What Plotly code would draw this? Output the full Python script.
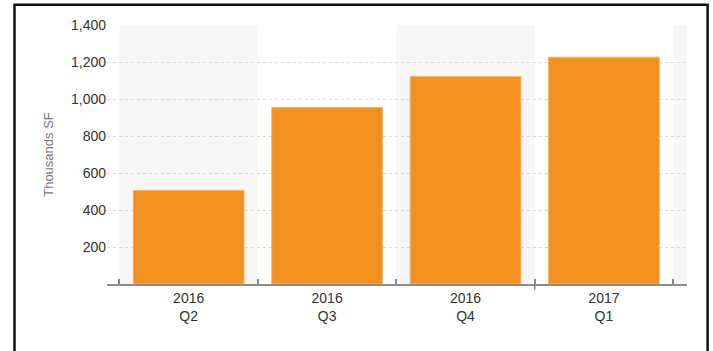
import plotly.graph_objects as go

years = ["2016", "2016", "2016", "2017"]
quarters = ["Q2", "Q3", "Q4", "Q1"]
values = [505, 954, 1121, 1226]
y_ticks = [200, 400, 600, 800, 1000, 1200, 1400]

categories = [f"{y}<br>{q}" for y, q in zip(years, quarters)]

fig = go.Figure()
fig.add_trace(go.Bar(
    x=categories, y=values, width=0.8,
    marker=dict(color="#F39020", line=dict(color="#F7B56C", width=1)),
    hoverinfo="x+y",
))

shapes = []
# alternating background bands
for i in range(0, len(categories) + 1, 2):
    shapes.append(dict(type="rect", xref="x", yref="paper", x0=i - 0.5, x1=i + 0.5,
                       y0=0, y1=1, fillcolor="#F7F7F7", line=dict(width=0), layer="below"))
# year separator tick
for i in range(1, len(years)):
    if years[i] != years[i - 1]:
        shapes.append(dict(type="line", xref="x", yref="paper", x0=i - 0.5, x1=i - 0.5,
                           y0=-0.022, y1=0.0, line=dict(color="#888888", width=1.5)))
# outer black frame
shapes.append(dict(type="rect", xref="paper", yref="paper", x0=-0.1595, x1=1.0355,
                   y0=-0.3, y1=1.078, line=dict(color="#111111", width=2.5),
                   fillcolor="rgba(0,0,0,0)", layer="above"))

fig.update_layout(
    width=713, height=351,
    margin=dict(l=107, r=26, t=25, b=67),
    paper_bgcolor="white", plot_bgcolor="white",
    showlegend=False,
    bargap=0.2,
    font=dict(family="Liberation Sans, Arial, sans-serif", size=14, color="#333333"),
    shapes=shapes,
    xaxis=dict(
        type="category", range=[-0.59, 3.6],
        showgrid=False, showline=True, linecolor="#8C8C8C", linewidth=2,
        ticks="inside", ticklen=5, tickcolor="#888888", tickwidth=1.5,
        tickson="boundaries", tickfont=dict(size=14, color="#333333"),
        fixedrange=True,
    ),
    yaxis=dict(
        range=[0, 1400], tickvals=y_ticks, tickformat=",",
        showgrid=True, gridcolor="#D8D8D8", griddash="dot", gridwidth=1,
        zeroline=False, showline=False, ticks="",
        tickfont=dict(size=14, color="#333333"),
        title=dict(text="Thousands SF", font=dict(size=13, color="#777777"), standoff=14),
        fixedrange=True,
    ),
)

fig.write_html("out.html")
